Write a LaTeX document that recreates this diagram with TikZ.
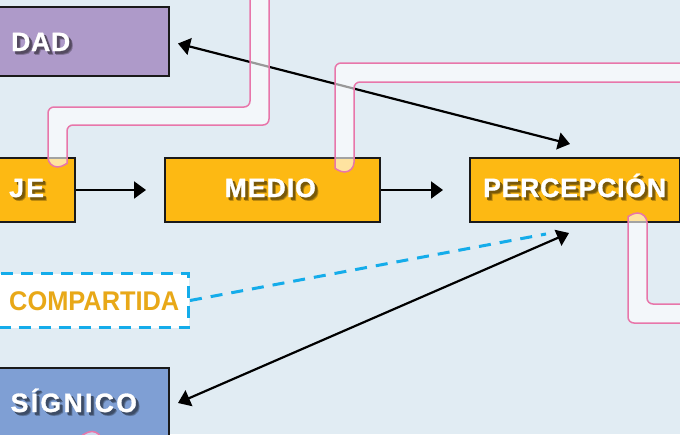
\documentclass[tikz,border=0pt]{standalone}
\usepackage{fontspec}
\setmainfont{Liberation Sans}
\usetikzlibrary{arrows.meta}

\definecolor{bgcol}{RGB}{225,236,243}
\definecolor{dadcol}{RGB}{174,154,201}
\definecolor{orangecol}{RGB}{253,185,19}
\definecolor{sigcol}{RGB}{127,159,212}
\definecolor{dashblue}{RGB}{20,172,234}
\definecolor{comptext}{RGB}{232,168,24}
\definecolor{tubepink}{RGB}{232,118,170}
\definecolor{edgecol}{RGB}{26,26,26}

\tikzset{
  box/.style={draw=edgecol, line width=2pt, inner sep=0pt, rectangle},
  lbl/.style={anchor=base west, inner sep=0pt, text=white,
              font=\fontsize{26.5}{30}\selectfont\bfseries\addfontfeatures{FakeBold=1.2}},
  tip/.tip={Triangle[length=12pt,width=17pt]},
  link/.style={line width=2.2pt, -tip},
  duallink/.style={line width=2.2pt, tip-tip},
  sharelink/.style={dashblue, line width=3pt, dash pattern=on 12pt off 9pt},
  tube/.style={draw=tubepink, line width=1.5pt, fill=white, fill opacity=0.6,
               rounded corners=6pt},
}

% text with a soft drop shadow tinted by the box colour underneath
\newcommand\shadowed[2]{%
  \rlap{\hspace{3.6pt}\raisebox{-3.6pt}{\textcolor{black!22!#1}{#2}}}%
  \rlap{\hspace{3pt}\raisebox{-3pt}{\textcolor{black!38!#1}{#2}}}%
  \rlap{\hspace{2.4pt}\raisebox{-2.4pt}{\textcolor{black!52!#1}{#2}}}%
  #2}
% label node: name, position, letter spacing, text, box colour
\newcommand\shadowlabel[5]{%
  \node[lbl] (#1) at (#2) {\addfontfeatures{LetterSpace=#3}\shadowed{#5}{#4}};}

\begin{document}
\begin{tikzpicture}[x=1pt, y=-1pt]
  \useasboundingbox (0,0) rectangle (680,434);
  \fill[bgcol] (0,0) rectangle (680,434);

  % boxes
  \node[box, fill=dadcol, minimum width=190pt, minimum height=69pt, anchor=north east] (dad) at (170,6) {};
  \node[box, fill=orangecol, minimum width=96pt, minimum height=64pt, anchor=north east] (je) at (76,157) {};
  \node[box, fill=orangecol, minimum width=215pt, minimum height=64pt, anchor=north west] (medio) at (164,157) {};
  \node[box, fill=orangecol, minimum width=210pt, minimum height=64pt, anchor=north west] (perc) at (469,157) {};
  \node[draw=dashblue, line width=3pt, dash pattern=on 12pt off 8pt, fill=white, inner sep=0pt,
        minimum width=210pt, minimum height=54pt, anchor=north east] (comp) at (190,272) {};
  \node[box, fill=sigcol, minimum width=190pt, minimum height=87pt, anchor=north east] (sig) at (170,367) {};

  % labels
  \shadowlabel{dadtxt}{11,51}{3}{DAD}{dadcol}
  \shadowlabel{jetxt}{9,197}{9}{JE}{orangecol}
  \shadowlabel{mediotxt}{224.5,197}{4}{MEDIO}{orangecol}
  \shadowlabel{perctxt}{483,197}{3.2}{PERCEPCIÓN}{orangecol}
  \shadowlabel{sigtxt}{10.5,412}{9}{SÍGNICO}{sigcol}
  \node[anchor=base west, inner sep=0pt, text=comptext,
        font=\fontsize{27}{30}\selectfont\bfseries\addfontfeatures{FakeStretch=0.94}]
    (comptxt) at (9,310) {COMPARTIDA};

  % connectors
  \draw[link, shorten >=18pt] (je.east) -- (medio.west);
  \draw[link, shorten >=26pt] (medio.east) -- (perc.west);
  \draw[duallink] ([shift={(8,2)}]dad.east) -- ([shift={(-5,-13)}]perc.north);
  \draw[duallink] ([shift={(8,-8.5)}]sig.east) -- ([shift={(-6,10)}]perc.south);
  \draw[sharelink] (comp.east) -- ([shift={(-29,11)}]perc.south);

  % translucent tubes
  \path[tube] (269,-10) -- (269,125) -- (67,125) -- (67,157.5)
    [sharp corners] arc[start angle=0, end angle=180, radius=9.5]
    [rounded corners=6pt] -- (48,107) -- (250,107) -- (250,-10) -- cycle;
  \path[tube] (690,63) -- (335,63) -- (335,162.5)
    [sharp corners] arc[start angle=180, end angle=0, radius=9.5]
    [rounded corners=6pt] -- (354,82) -- (690,82) -- cycle;
  \path[tube] (690,323) -- (628,323) -- (628,222.5)
    [sharp corners] arc[start angle=180, end angle=360, radius=9.5]
    [rounded corners=6pt] -- (647,304) -- (690,304) -- cycle;
  \path[tube] (82.5,450) -- (82.5,441)
    [sharp corners] arc[start angle=180, end angle=360, radius=9.5]
    -- (101.5,450) -- cycle;
\end{tikzpicture}
\end{document}
